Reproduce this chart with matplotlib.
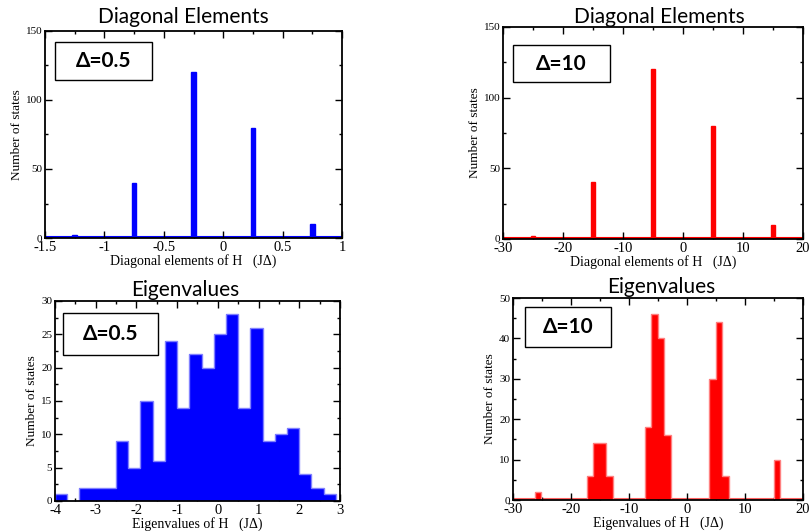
import matplotlib
matplotlib.use('Agg')
import matplotlib.pyplot as plt
from matplotlib.patches import Rectangle
from matplotlib.ticker import MultipleLocator, FuncFormatter
from matplotlib.transforms import offset_copy

plt.rcParams['axes.unicode_minus'] = False
plt.rcParams['font.family'] = ['Liberation Serif', 'DejaVu Serif']

# ---------------- data ----------------
diag_levels_05 = [-1.25, -0.75, -0.25, 0.25, 0.75]
diag_counts_05 = [2, 40, 120, 80, 10]

diag_levels_10 = [-25, -15, -5, 5, 15]
diag_counts_10 = [2, 40, 120, 80, 10]

eig_edges_05 = [-4.0, -3.7, -3.4, -3.1, -2.8, -2.5, -2.2, -1.9, -1.6, -1.3,
                -1.0, -0.7, -0.4, -0.1, 0.2, 0.5, 0.8, 1.1, 1.4, 1.7,
                2.0, 2.3, 2.6, 2.9]
eig_counts_05 = [1, 0, 2, 2, 2, 9, 5, 15, 6, 24,
                 14, 22, 20, 25, 28, 14, 26, 9, 10, 11,
                 4, 2, 1]

eig_edges_10 = [-26.20, -25.09, -23.97, -22.86, -21.75, -20.64, -19.52, -18.41,
                -17.30, -16.19, -15.07, -13.96, -12.84, -11.73, -10.62, -9.51,
                -8.39, -7.28, -6.17, -5.05, -3.94, -2.83, -1.71, -0.60,
                0.51, 1.63, 2.74, 3.85, 4.96, 6.08, 7.19, 8.30,
                9.41, 10.53, 11.64, 12.75, 13.87, 14.98, 16.09]
eig_counts_10 = [2, 0, 0, 0, 0, 0, 0, 0,
                 6, 14, 14, 6, 0, 0, 0, 0,
                 0, 18, 46, 40, 16, 0, 0, 0,
                 0, 0, 0, 30, 44, 6, 0, 0,
                 0, 0, 0, 0, 0, 10]

titles = ['Diagonal Elements', 'Diagonal Elements', 'Eigenvalues', 'Eigenvalues']
delta_labels = ['Δ=0.5', 'Δ=10', 'Δ=0.5', 'Δ=10']
xlabel_diag = 'Diagonal elements of H   (JΔ)'
xlabel_eig = 'Eigenvalues of H   (JΔ)'
ylabel = 'Number of states'

BLUE = '#0000ff'
RED = '#ff0000'

# ---------------- figure ----------------
W, H = 812, 531
fig = plt.figure(figsize=(W / 100, H / 100), dpi=100)
fig.patch.set_facecolor('white')


def px_axes(l, t, r, b):
    return fig.add_axes([l / W, 1 - b / H, (r - l) / W, (b - t) / H])


fmt = FuncFormatter(lambda v, p: f'{v:g}')


def baseline(ax, color, lw, lift):
    line = ax.axhline(0, color=color, lw=lw, zorder=1, solid_capstyle='butt')
    line.set_transform(offset_copy(line.get_transform(), fig=fig, y=lift,
                                   units='dots'))


def style(ax, xlim, ylim, xmaj, xmin, ymaj, ymin, xlabel):
    ax.set_xlim(xlim)
    ax.set_ylim(ylim)
    ax.xaxis.set_major_locator(MultipleLocator(xmaj))
    ax.xaxis.set_minor_locator(MultipleLocator(xmin))
    ax.yaxis.set_major_locator(MultipleLocator(ymaj))
    ax.yaxis.set_minor_locator(MultipleLocator(ymin))
    ax.xaxis.set_major_formatter(fmt)
    ax.yaxis.set_major_formatter(fmt)
    ax.tick_params(which='both', direction='in', top=True, right=True,
                   width=1, colors='black')
    ax.tick_params(which='major', length=5)
    ax.tick_params(which='minor', length=2.5)
    ax.tick_params(axis='x', labelsize=10.5, pad=2)
    ax.tick_params(axis='y', labelsize=8, pad=2)
    for s in ax.spines.values():
        s.set_linewidth(1.3)
        s.set_zorder(4)
    ax.set_xlabel(xlabel, fontsize=10, labelpad=0)
    ax.set_ylabel(ylabel, fontsize=9.5, labelpad=2)


def title(text, x, y):
    fig.text(x / W, 1 - y / H, text, ha='center', va='baseline',
             family='Lato', fontsize=15)


def delta_box(text, l, t, r, b):
    fig.add_artist(Rectangle((l / W, 1 - b / H), (r - l) / W, (b - t) / H,
                             transform=fig.transFigure, facecolor='white',
                             edgecolor='black', linewidth=1, zorder=5))
    fig.text((l + r) / 2 / W, 1 - (t + b) / 2 / H, text, ha='center',
             va='center', family='Lato', fontweight='bold', fontsize=15,
             zorder=6)


# Top-left: diagonal elements, Δ=0.5
ax1 = px_axes(45, 31, 342, 238)
baseline(ax1, BLUE, 1.5, 1.0)
ax1.bar(diag_levels_05, diag_counts_05, width=0.04, color=BLUE,
        edgecolor=BLUE, linewidth=1, zorder=2)
style(ax1, (-1.5, 1), (0, 150), 0.5, 0.25, 50, 25, xlabel_diag)
title(titles[0], 183, 23)
delta_box(delta_labels[0], 55, 42, 152, 80)

# Top-right: diagonal elements, Δ=10
ax2 = px_axes(503, 27, 803, 239)
baseline(ax2, RED, 1.5, 1.0)
ax2.bar(diag_levels_10, diag_counts_10, width=0.7, color=RED,
        edgecolor=RED, linewidth=1, zorder=2)
style(ax2, (-30, 20), (0, 150), 10, 5, 50, 25, xlabel_diag)
title(titles[1], 659, 23)
delta_box(delta_labels[1], 513, 45, 610, 82)

# Bottom-left: eigenvalues, Δ=0.5
ax3 = px_axes(55, 301, 340, 501)
ax3.stairs(eig_counts_05, eig_edges_05, fill=True, color=BLUE, zorder=2)
ax3.stairs(eig_counts_05, eig_edges_05, color='#8080ff', lw=1, zorder=3)
style(ax3, (-4, 3), (0, 30), 1, 0.5, 5, 2.5, xlabel_eig)
title(titles[2], 185, 296)
delta_box(delta_labels[2], 63, 313, 158, 355)

# Bottom-right: eigenvalues, Δ=10
ax4 = px_axes(513, 298, 803, 500)
baseline(ax4, '#ff6060', 1.5, 1.5)
ax4.stairs(eig_counts_10, eig_edges_10, fill=True, color=RED, zorder=2)
ax4.stairs(eig_counts_10, eig_edges_10, color='#ff8080', lw=1, zorder=3)
style(ax4, (-30, 20), (0, 50), 10, 5, 10, 5, xlabel_eig)
title(titles[3], 661, 293)
delta_box(delta_labels[3], 525, 307, 611, 347)

fig.savefig('out.png', dpi=100, facecolor='white')
